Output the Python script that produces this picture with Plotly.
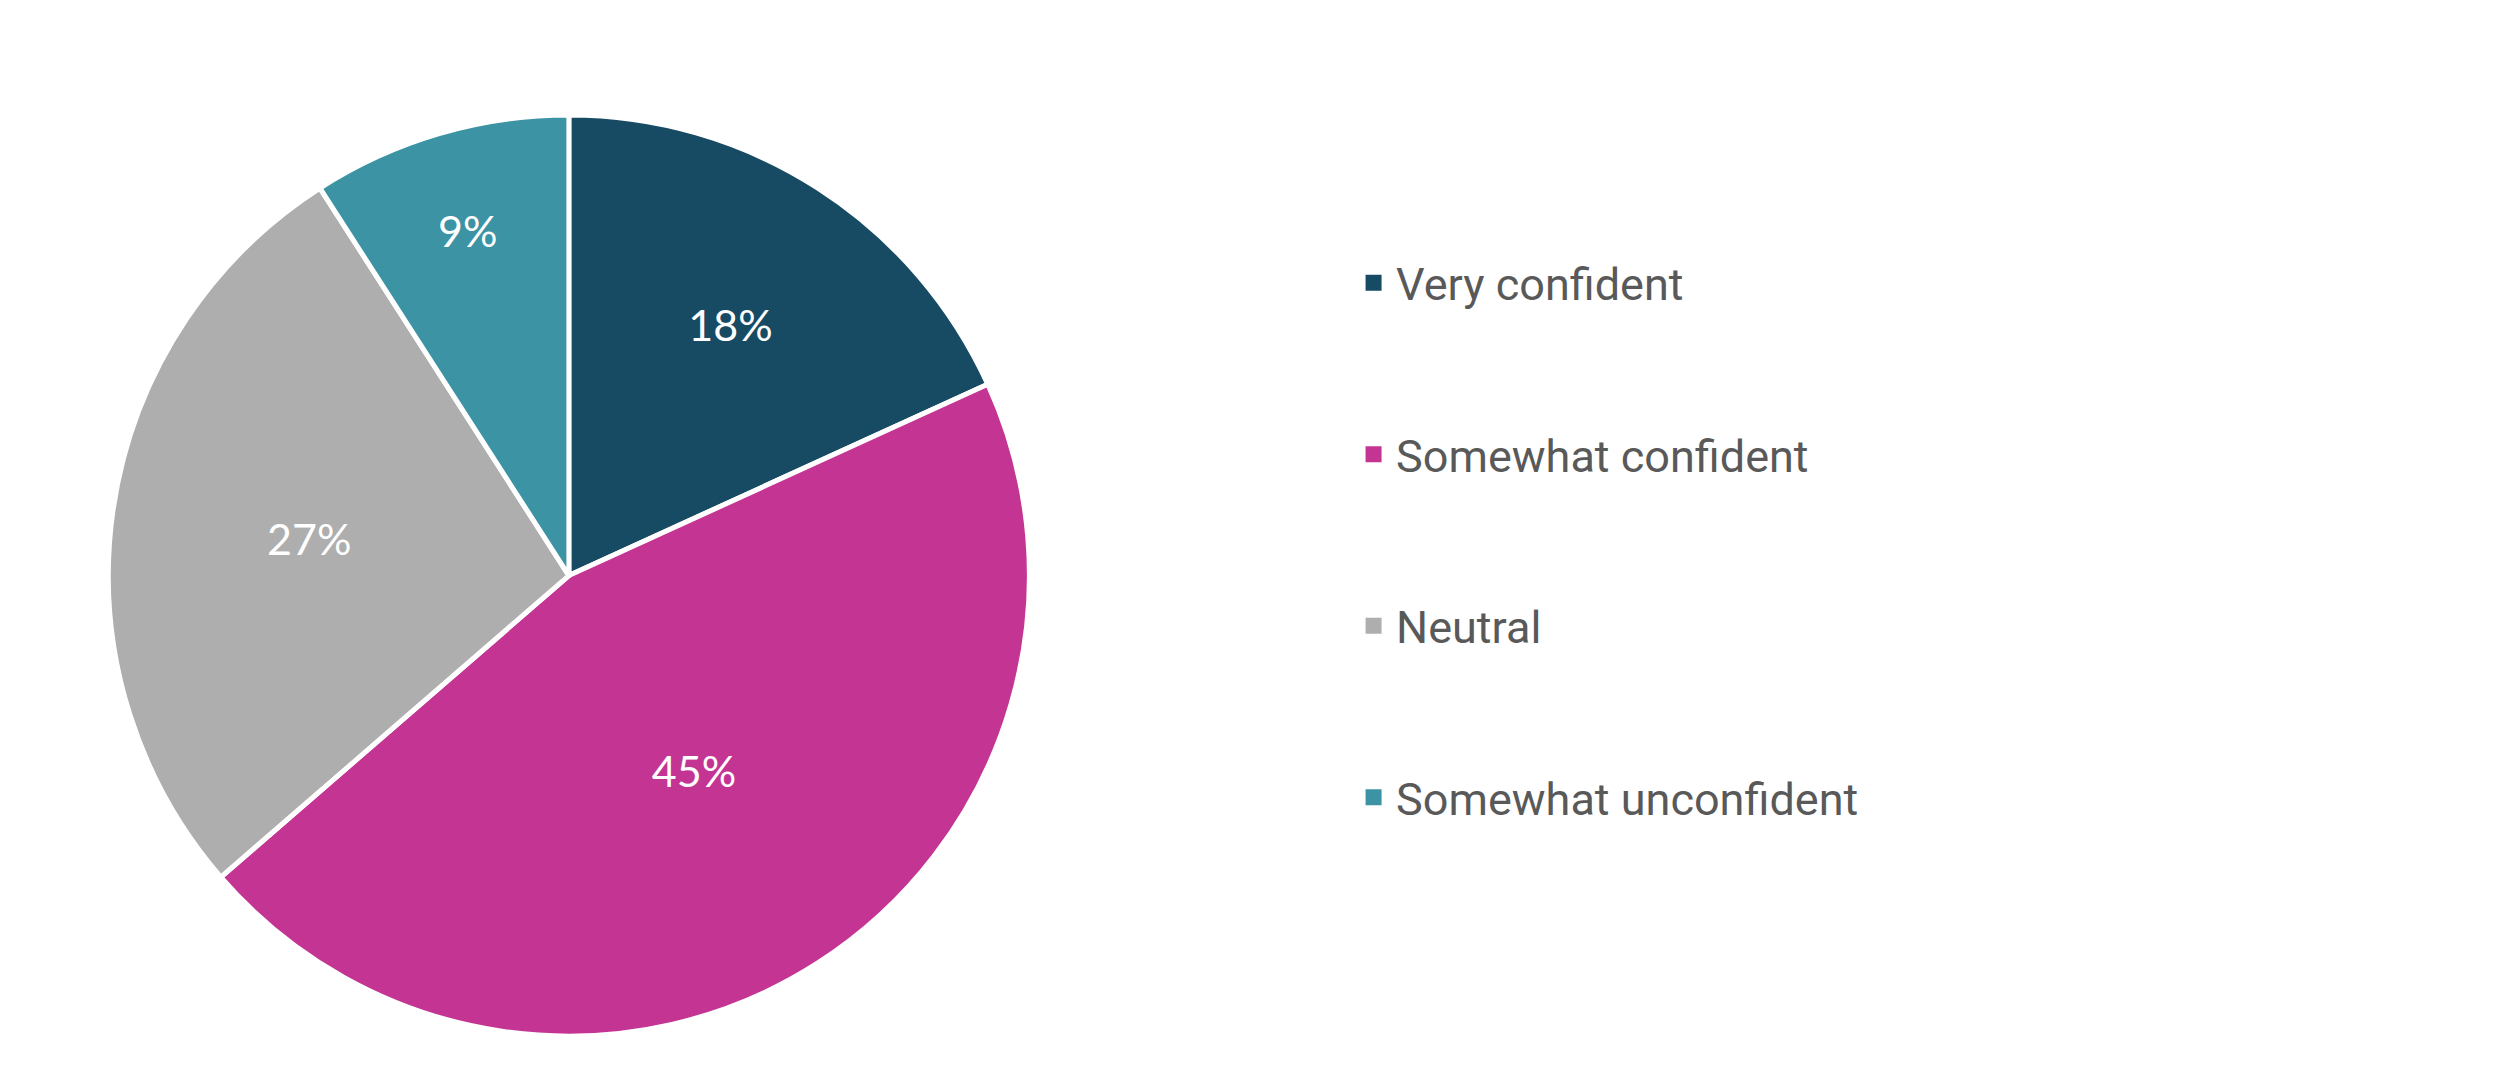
import plotly.graph_objects as go

categories = ["Very confident", "Somewhat confident", "Neutral", "Somewhat unconfident"]
values = [18, 45, 27, 9]
labels_text = ["18%", "45%", "27%", "9%"]
colors = ["#174B63", "#C43493", "#AEAEAE", "#3C93A4"]

fig = go.Figure()
fig.add_trace(go.Pie(
    labels=categories, values=values, text=labels_text,
    textinfo="text", textposition="inside", insidetextorientation="horizontal",
    textfont=dict(family="Lato", size=43, color="white"),
    marker=dict(colors=colors, line=dict(color="white", width=5)),
    sort=False, direction="clockwise", rotation=0,
    domain=dict(x=[0.0400, 0.4071], y=[0.0472, 0.9008]),
    showlegend=False, hoverinfo="label+percent",
))
for c, col in zip(categories, colors):
    fig.add_trace(go.Scatter(
        x=[None], y=[None], mode="markers", name=c, legendgroup=c,
        marker=dict(symbol="square", size=18, color=col), showlegend=True,
    ))

fig.update_layout(
    width=2509, height=1079,
    margin=dict(l=0, r=0, t=0, b=0),
    paper_bgcolor="white", plot_bgcolor="white",
    xaxis=dict(visible=False), yaxis=dict(visible=False),
    legend=dict(
        x=0.5353, y=1 - 239 / 1079, xanchor="left", yanchor="top",
        font=dict(family="Roboto", size=45, color="#595959"),
        tracegroupgap=110, itemwidth=35, bgcolor="rgba(0,0,0,0)",
        itemclick=False, itemdoubleclick=False,
    ),
)
fig.write_html("out.html")
